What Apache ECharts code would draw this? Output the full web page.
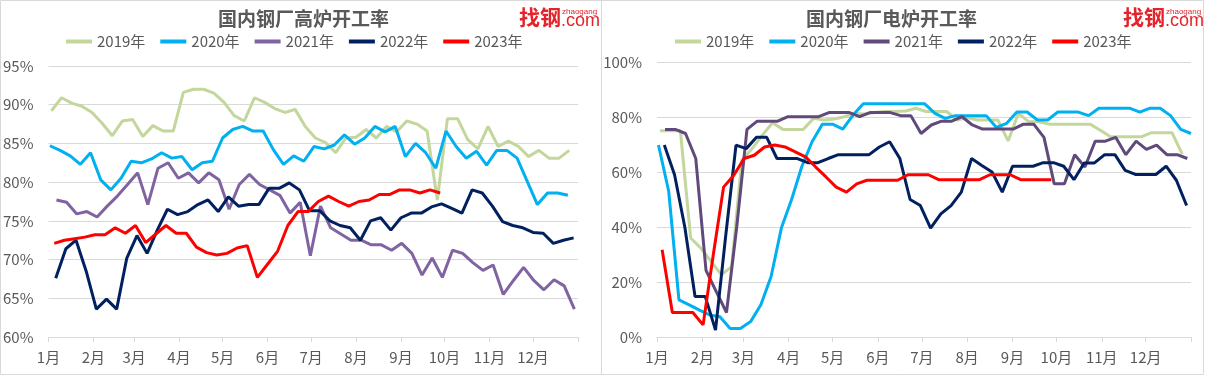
<!DOCTYPE html>
<html>
<head>
<meta charset="utf-8">
<script src="https://cdn.jsdelivr.net/npm/echarts@6/dist/echarts.min.js"></script>
<style>
html,body{margin:0;padding:0;background:#fff;}
#main{width:1205px;height:376px;}
</style>
</head>
<body>
<div id="main"></div>
<script>
// month ticks (day of year) and labels
var monthStarts = [0, 31, 59, 90, 120, 151, 181, 212, 243, 273, 304, 334, 365];
var monthLabels = ['1月','2月','3月','4月','5月','6月','7月','8月','9月','10月','11月','12月'];
var years = ['2019年','2020年','2021年','2022年','2023年'];

// 高炉开工率 (%) weekly, first week day offset
var bfStart = [2, 1, 5.5, 5, 4];
var bf2019 = [89.2,90.9,90.2,89.8,89.0,87.6,86.0,87.9,88.1,85.9,87.3,86.6,86.6,91.6,92.0,92.0,91.5,90.3,88.6,87.9,
  90.9,90.3,89.5,89.0,89.4,87.2,85.7,85.1,83.8,85.7,85.8,86.8,85.7,87.2,86.5,87.9,87.5,86.6,77.7,88.2,
  88.2,85.5,84.3,87.2,84.6,85.3,84.6,83.3,84.1,83.1,83.1,84.1];
var bf2020 = [84.7,84.1,83.4,82.3,83.8,80.3,79.0,80.5,82.7,82.5,83.0,83.8,83.1,83.3,81.6,82.5,82.7,85.7,86.8,87.2,
  86.6,86.6,84.2,82.3,83.4,82.7,84.6,84.3,84.8,86.1,84.9,85.7,87.2,86.5,87.2,83.3,85.0,83.8,81.8,86.6,
  84.6,83.1,84.0,82.2,84.1,84.1,83.1,80.1,77.1,78.6,78.6,78.3];
var bf2021 = [77.7,77.4,75.9,76.2,75.5,76.9,78.2,79.7,81.2,77.1,81.8,82.5,80.5,81.2,79.9,81.2,80.3,76.5,79.7,81.0,
  79.7,79.0,78.3,76.0,77.4,70.5,76.9,74.1,73.3,72.5,72.5,71.9,71.9,71.2,72.1,70.8,68.0,70.2,67.7,71.2,
  70.8,69.6,68.6,69.3,65.5,67.3,69.0,67.3,66.1,67.4,66.6,63.6];
var bf2022 = [67.6,71.4,72.5,68.5,63.6,64.9,63.6,70.2,73.1,70.8,73.8,76.5,75.8,76.2,77.1,77.7,76.2,78.1,76.9,77.1,
  77.1,79.2,79.2,79.9,79.0,76.3,76.3,75.0,74.4,74.1,72.5,75.0,75.4,73.8,75.4,76.0,76.0,76.8,77.2,76.6,
  76.0,79.0,78.6,76.9,74.9,74.4,74.1,73.5,73.4,72.1,72.5,72.8];
var bf2023 = [72.1,72.5,72.7,72.9,73.2,73.2,74.1,73.4,74.4,72.2,73.3,74.4,73.4,73.4,71.6,70.9,70.6,70.8,71.5,71.8,
  67.7,69.4,71.1,74.4,76.2,76.2,77.5,78.2,77.5,76.9,77.5,77.7,78.4,78.4,79.0,79.0,78.6,79.0,78.6];

// 电炉开工率 (%) weekly
var efStart = [2, 1, 5.5, 5, 3.5];
var ef2019 = [75,75,75,36,32.3,27.5,22.6,25.6,64.3,68.5,73.4,77.9,75.5,75.5,75.5,79.5,78.9,79.3,80.1,81.3,
  81.1,81.6,82.0,82.0,82.2,83.2,82.0,82.0,82.0,78.9,79.8,78.9,78.9,78.9,71.3,81.3,78.3,78.3,77.4,77.4,
  77.4,77.4,77.4,75.2,72.8,72.8,72.8,72.8,74.3,74.3,74.3,66.5];
var ef2020 = [69.8,53,13.5,11.7,9.8,8.0,7.4,3.1,3.1,5.6,11.7,22.0,39.6,50.0,62.0,71.0,77.4,77.4,75.6,80.7,
  84.8,84.8,84.8,84.8,84.8,84.8,84.8,81.3,79.5,80.5,80.5,80.5,80.5,76.2,77.7,81.8,81.8,78.9,78.9,81.8,
  81.8,81.8,80.5,83.2,83.2,83.2,83.2,81.8,83.2,83.2,80.5,75.5,74.0];
var ef2021 = [75.5,75.5,74.0,64.9,24.2,16.5,8.9,40,75.5,78.5,78.5,78.5,80.1,80.1,80.1,80.1,81.6,81.6,81.6,80.1,
  81.6,81.6,81.6,80.5,80.5,74.0,77.1,78.5,78.5,80.1,77.1,75.6,75.6,75.6,75.6,77.4,77.4,72.6,55.7,55.7,
  66.3,61.8,71.2,71.2,72.6,66.3,71.2,68.2,69.8,66.3,66.3,64.9];
var ef2022 = [69.8,59,40,14.7,14.7,2.5,37,69.8,68.5,72.6,72.6,64.9,64.9,64.9,63.4,63.4,64.9,66.3,66.3,66.3,
  66.3,69.1,71.0,64.9,50.0,47.8,39.6,44.8,47.8,52.7,64.9,62.4,60.0,52.7,62.1,62.1,62.1,63.4,63.4,62.1,
  57.2,63.3,63.3,66.3,66.3,60.6,59.1,59.1,59.1,62.1,57.0,47.8];
var ef2023 = [31.7,8.9,8.9,8.9,4.4,30,54.5,58.8,64.9,66.1,69.1,69.8,69.1,67.3,65.5,61.8,58.2,54.5,52.7,55.7,
  57.0,57.0,57.0,57.0,59.0,59.0,59.0,57.2,57.2,57.2,57.2,57.2,59.0,59.0,59.0,57.2,57.2,57.2,57.2];

var bfColors = ['#C3D69B','#00B0F0','#8064A2','#002060','#FF0000'];
var efColors = ['#C3D69B','#00B0F0','#604A7B','#002060','#FF0000'];

var FONT = '"Noto Sans CJK SC", "Microsoft YaHei", sans-serif';
var GRAY = '#595959';

function weekly(start, vals) {
  return vals.map(function (v, i) { return [start + 7 * i, v]; });
}

function xAxisFor(idx) {
  return {
    type: 'value', gridIndex: idx, min: 0, max: 365,
    axisLine: { lineStyle: { color: '#D9D9D9' } },
    axisTick: { show: true, length: 5, customValues: monthStarts, lineStyle: { color: '#D9D9D9' } },
    axisLabel: {
      customValues: monthStarts.slice(0, 12),
      formatter: function (v) { return monthLabels[monthStarts.indexOf(v)]; },
      color: GRAY, fontSize: 15, fontFamily: FONT, margin: 13
    },
    splitLine: { show: false }
  };
}

function yAxisFor(idx, min, max, step) {
  return {
    type: 'value', gridIndex: idx, min: min, max: max, interval: step,
    axisLine: { show: false }, axisTick: { show: false },
    axisLabel: { formatter: '{value}%', color: GRAY, fontSize: 15, fontFamily: FONT, margin: 15 },
    splitLine: { lineStyle: { color: '#D9D9D9' } }
  };
}

function legendFor(left, colors) {
  return {
    left: left, top: 34, padding: 0, itemGap: 15, itemWidth: 26, itemHeight: 4, icon: 'rect',
    textStyle: { color: GRAY, fontSize: 15, fontFamily: FONT },
    data: years.map(function (y, i) { return { name: y, itemStyle: { color: colors[i] } }; })
  };
}

var bfData = [bf2019, bf2020, bf2021, bf2022, bf2023];
var efData = [ef2019, ef2020, ef2021, ef2022, ef2023];

var series = [];
bfData.forEach(function (d, i) {
  series.push({
    name: years[i], type: 'line', xAxisIndex: 0, yAxisIndex: 0,
    data: weekly(bfStart[i], d), showSymbol: false,
    lineStyle: { width: 3, color: bfColors[i] }, itemStyle: { color: bfColors[i] }
  });
});
efData.forEach(function (d, i) {
  series.push({
    name: years[i], type: 'line', xAxisIndex: 1, yAxisIndex: 1,
    data: weekly(efStart[i], d), showSymbol: false,
    lineStyle: { width: 3, color: efColors[i] }, itemStyle: { color: efColors[i] }
  });
});

function logo(x) {
  return [
    { type: 'text', left: x, top: 7, style: { text: '找钢', fill: '#E3242B', font: 'bold 21px ' + FONT } },
    { type: 'text', left: x + 43, top: 8, style: { text: 'zhaogang', fill: '#E3242B', font: '8px Arial, sans-serif' } },
    { type: 'text', left: x + 42, top: 12, style: { text: '.com', fill: '#E3242B', font: '18px Arial, sans-serif' } }
  ];
}

var myChart = echarts.init(document.getElementById('main'));
var option = {
  animation: false,
  backgroundColor: '#fff',
  textStyle: { fontFamily: FONT },
  title: [
    { text: '国内钢厂高炉开工率', left: 218, top: 9, padding: 0,
      textStyle: { fontSize: 19, fontWeight: 'bold', color: GRAY, fontFamily: FONT } },
    { text: '国内钢厂电炉开工率', left: 806, top: 9, padding: 0,
      textStyle: { fontSize: 19, fontWeight: 'bold', color: GRAY, fontFamily: FONT } }
  ],
  legend: [legendFor(66, bfColors), legendFor(675, efColors)],
  grid: [
    { left: 48, top: 66, width: 530, height: 271 },
    { left: 657, top: 62, width: 534, height: 275 }
  ],
  xAxis: [xAxisFor(0), xAxisFor(1)],
  yAxis: [yAxisFor(0, 60, 95, 5), yAxisFor(1, 0, 100, 20)],
  graphic: [
    { type: 'rect', shape: { x: 0.5, y: 0.5, width: 601, height: 374 }, style: { fill: 'none', stroke: '#D9D9D9' } },
    { type: 'rect', shape: { x: 601.5, y: 0.5, width: 602, height: 374 }, style: { fill: 'none', stroke: '#D9D9D9' } }
  ].concat(logo(519)).concat(logo(1123)),
  series: series
};
myChart.setOption(option);
</script>
</body>
</html>
